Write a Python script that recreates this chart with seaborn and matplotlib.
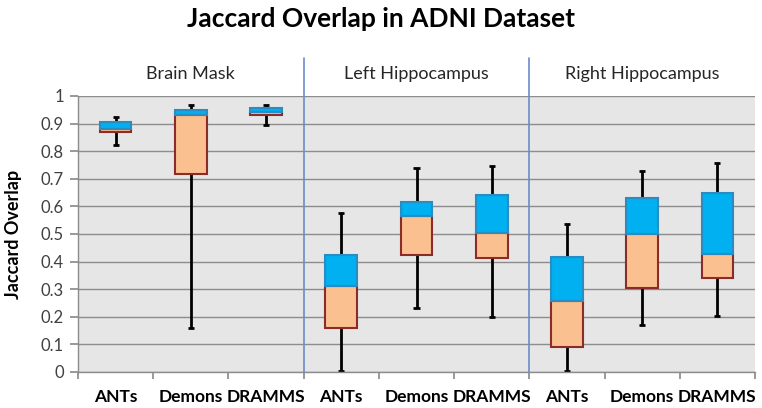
import numpy as np
import matplotlib.pyplot as plt
import seaborn as sns

# gruppen / metody
regions = ['Brain Mask', 'Left Hippocampus', 'Right Hippocampus']
methods = ['ANTs', 'Demons', 'DRAMMS']

# wartości: min, Q1, mediana, Q3, max (kolejno ANTs, Demons, DRAMMS w każdej grupie)
low = [0.822, 0.158, 0.894, 0.005, 0.233, 0.200, 0.004, 0.172, 0.204]
q1 = [0.871, 0.717, 0.932, 0.160, 0.423, 0.414, 0.092, 0.305, 0.339]
median = [0.879, 0.931, 0.942, 0.310, 0.564, 0.505, 0.259, 0.501, 0.429]
q3 = [0.906, 0.951, 0.958, 0.424, 0.615, 0.642, 0.417, 0.632, 0.648]
high = [0.924, 0.966, 0.966, 0.577, 0.740, 0.747, 0.537, 0.727, 0.757]

sns.set_theme(style='white')
plt.rcParams['font.family'] = ['Lato', 'DejaVu Sans']

fig = plt.figure(figsize=(7.62, 4.08), dpi=100)
ax = fig.add_axes([78 / 762, 36 / 408, 677 / 762, 276 / 408])
ax.set_facecolor('#e6e6e6')

x = np.arange(len(low))
w = 0.42
cap = 0.04

# wąsy
ax.vlines(x, low, high, color='black', lw=2, zorder=2)
ax.hlines(low, x - cap, x + cap, color='black', lw=2, zorder=2)
ax.hlines(high, x - cap, x + cap, color='black', lw=2, zorder=2)

# pudełka: Q1-mediana (brzoskwiniowe), mediana-Q3 (niebieskie)
ax.bar(x, np.subtract(median, q1), bottom=q1, width=w, color='#fac08f',
       edgecolor='#8b2c2a', lw=1.5, zorder=3)
ax.bar(x, np.subtract(q3, median), bottom=median, width=w, color='#00b0f0',
       edgecolor='#2a8cc0', lw=1.5, zorder=3)

ax.set_xlim(-0.5, len(low) - 0.5)
ax.set_ylim(0, 1)
ax.set_yticks(np.arange(0, 1.01, 0.1))
ax.set_yticklabels(['0'] + [f'{v:.1f}' for v in np.arange(0.1, 0.95, 0.1)] + ['1'])
ax.yaxis.grid(True, color='#8c8c8c', lw=1)
ax.set_axisbelow(True)

# x: kreski na granicach kategorii, podpisy w środku
ax.set_xticks(np.arange(-0.5, len(low), 1.0))
ax.set_xticklabels([])
ax.set_xticks(x, minor=True)
ax.set_xticklabels(methods * len(regions), minor=True, fontsize=12.5,
                   fontweight='bold', color='black')
ax.tick_params(axis='x', which='major', direction='out', length=5, color='#8c8c8c', bottom=True)
ax.tick_params(axis='x', which='minor', length=0, pad=12)
ax.tick_params(axis='y', direction='out', length=6, color='#8c8c8c', left=True,
               labelsize=12, labelcolor='#404040', pad=4)

for s in ['top', 'right']:
    ax.spines[s].set_visible(False)
for s in ['left', 'bottom']:
    ax.spines[s].set_color('#8c8c8c')
    ax.spines[s].set_linewidth(1)

# separatory grup i nagłówki
trans = ax.get_xaxis_transform()
for xs in [2.5, 5.5]:
    ax.plot([xs, xs], [0, 1.138], transform=trans, color='#6a8cc6', lw=1.2,
            clip_on=False, zorder=4)
for i, r in enumerate(regions):
    ax.text(3 * i + 1, 1.08, r, transform=trans, ha='center', va='center',
            fontsize=13, color='#262626')

fig.text(14 / 762, 1 - 234 / 408, 'Jaccard Overlap', rotation=90, ha='center',
         va='center', fontsize=13, fontweight='bold', color='black')
fig.text(0.5, 1 - 19 / 408, 'Jaccard Overlap in ADNI Dataset', ha='center',
         va='center', fontsize=19, fontweight='bold', color='black')

fig.savefig('out.png', dpi=100, facecolor='white')
